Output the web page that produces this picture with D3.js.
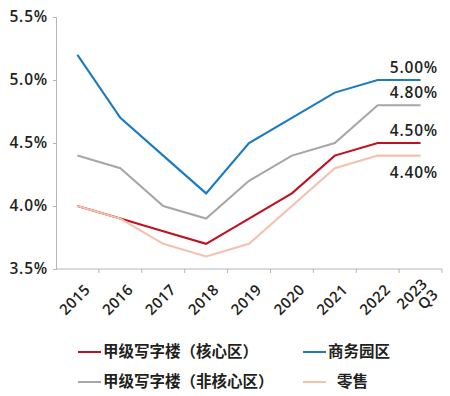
<!DOCTYPE html>
<html>
<head>
<meta charset="utf-8">
<script src="https://cdn.jsdelivr.net/npm/d3@7"></script>
<style>
  body { margin: 0; background: #fff; }
  text { fill: #231f20; }
</style>
</head>
<body>
<script>
// data
var years = ["2015", "2016", "2017", "2018", "2019", "2020", "2021", "2022", "2023 Q3"];
var coreOffice = [4.0, 3.9, 3.8, 3.7, 3.9, 4.1, 4.4, 4.5, 4.5];
var businessPark = [5.2, 4.7, 4.4, 4.1, 4.5, 4.7, 4.9, 5.0, 5.0];
var nonCoreOffice = [4.4, 4.3, 4.0, 3.9, 4.2, 4.4, 4.5, 4.8, 4.8];
var retail = [4.0, 3.9, 3.7, 3.6, 3.7, 4.0, 4.3, 4.4, 4.4];
var yTicks = [3.5, 4.0, 4.5, 5.0, 5.5];
var endLabels = ["4.50%", "5.00%", "4.80%", "4.40%"];

var series = [
    { name: "甲级写字楼（核心区）", values: coreOffice, color: "#c0111f", end: endLabels[0] },
    { name: "商务园区", values: businessPark, color: "#1a7bc3", end: endLabels[1] },
    { name: "甲级写字楼（非核心区）", values: nonCoreOffice, color: "#a7a7a7", end: endLabels[2] },
    { name: "零售", values: retail, color: "#f4c1af", end: endLabels[3] }
];

var width = 450, height = 396;
var svg = d3.select("body").append("svg").attr("width", width).attr("height", height);

var x = d3.scaleBand().domain(years).range([56, 442]);
var y = d3.scaleLinear().domain([3.5, 5.5]).range([269, 17]);
var font = "'Open Sans', sans-serif";

// y axis
var yAxis = svg.append("g").attr("transform", "translate(56,0)")
    .call(d3.axisLeft(y).tickValues(yTicks).tickSize(3).tickPadding(5)
        .tickFormat(function (d) { return d3.format(".1f")(d) + "%"; }));
yAxis.select(".domain").attr("stroke", "#b5b5b5");
yAxis.selectAll(".tick line").attr("stroke", "#b5b5b5");
yAxis.selectAll(".tick text").attr("font-family", font).attr("font-size", 15.5)
    .attr("font-weight", 600).attr("letter-spacing", "0.8px").attr("fill", "#231f20");

// x axis: ticks sit on the band edges
var xAxis = svg.append("g").attr("transform", "translate(0,269)");
xAxis.append("line").attr("x1", 56).attr("x2", 442).attr("stroke", "#b5b5b5");
xAxis.selectAll(".edge").data(years).enter().append("line")
    .attr("x1", function (d) { return x(d) + x.bandwidth(); })
    .attr("x2", function (d) { return x(d) + x.bandwidth(); })
    .attr("y1", 0).attr("y2", 4).attr("stroke", "#b5b5b5");
var xl = xAxis.selectAll(".lab").data(years).enter().append("text")
    .attr("font-family", font).attr("font-size", 15).attr("font-weight", 600)
    .attr("letter-spacing", "0.4px")
    .attr("text-anchor", "end")
    .attr("transform", function (d) {
        return "translate(" + (x(d) + x.bandwidth() / 2 + 10) + ",18) rotate(-45)";
    });
xl.each(function (d) {
    var parts = d.split(" ");
    var t = d3.select(this);
    parts.forEach(function (p, i) {
        t.append("tspan").attr("x", 0).attr("dy", i === 0 ? (parts.length > 1 ? "-0.2em" : "0.35em") : "1.0em").text(p);
    });
});

// lines
var line = d3.line()
    .x(function (d, i) { return x(years[i]) + x.bandwidth() / 2; })
    .y(function (d) { return y(d); });

svg.selectAll(".series").data(series).enter().append("path")
    .attr("d", function (s) { return line(s.values); })
    .attr("fill", "none")
    .attr("stroke", function (s) { return s.color; })
    .attr("stroke-width", 2.1);

// value labels at the end
svg.selectAll(".endlab").data(series).enter().append("text")
    .attr("font-family", font).attr("font-size", 15.5).attr("font-weight", 600)
    .attr("letter-spacing", "0.8px")
    .attr("text-anchor", "end")
    .attr("x", 438)
    .attr("y", function (s) {
        var v = s.values[s.values.length - 1];
        return s.end === "4.40%" ? y(v) + 22 : y(v) - 7;
    })
    .text(function (s) { return s.end; });

// legend
var legPos = [[78, 352], [303, 352], [78, 382], [303, 382]];
var leg = svg.selectAll(".leg").data(series).enter().append("g")
    .attr("transform", function (s, i) { return "translate(" + legPos[i][0] + "," + legPos[i][1] + ")"; });
leg.append("line").attr("x1", 0).attr("x2", 23)
    .attr("stroke", function (s) { return s.color; }).attr("stroke-width", 2);
leg.append("text")
    .attr("x", function (s) { return s.name === "零售" ? 34 : 25; })
    .attr("dy", "0.35em")
    .attr("font-family", "'Noto Sans CJK SC', sans-serif")
    .attr("font-size", 15.5).attr("font-weight", 700)
    .text(function (s) { return s.name; });
</script>
</body>
</html>
